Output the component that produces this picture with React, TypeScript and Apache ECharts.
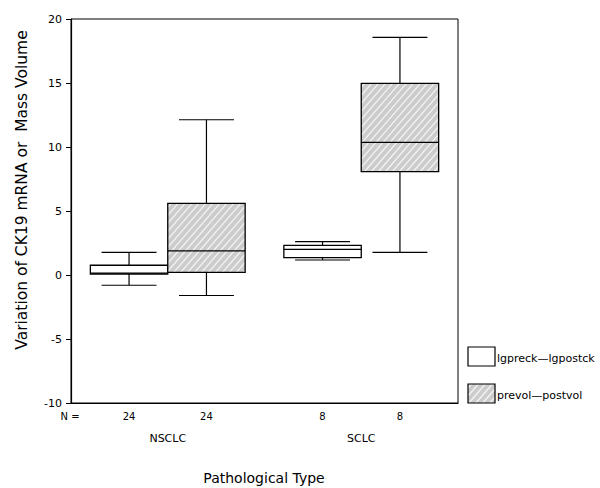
import React, { useEffect, useRef } from "react";
import * as echarts from "echarts";

const categories = ["NSCLC", "SCLC"];
// [min, Q1, median, Q3, max]
const lgpreckBoxes = [
  [-0.8, 0.08, 0.15, 0.76, 1.77],
  [1.17, 1.35, 2.0, 2.32, 2.6],
];
const prevolBoxes = [
  [-1.6, 0.2, 1.88, 5.6, 12.13],
  [1.77, 8.07, 10.36, 14.97, 18.57],
];
const lgpreckN = [24, 8];
const prevolN = [24, 8];
const seriesNames = ["lgpreck—lgpostck", "prevol—postvol"];
const yTicks = { min: -10, max: 20, interval: 5 };

const FONT = "DejaVu Sans";
const HATCH_FILL = "#cccccc";
const HATCH_LINE = "#f4f4f4";

function hatchLines(x0: number, y0: number, w: number, h: number, step = 8, k = 1.15) {
  const out: any[] = [];
  const cMin = k * x0 + y0;
  const cMax = k * (x0 + w) + y0 + h;
  for (let c = cMin + step / 2; c < cMax; c += step) {
    const xa = Math.max(x0, (c - y0 - h) / k);
    const xb = Math.min(x0 + w, (c - y0) / k);
    if (xb - xa > 0.3) {
      out.push({
        type: "line",
        shape: { x1: xa, y1: c - k * xa, x2: xb, y2: c - k * xb },
        style: { stroke: HATCH_LINE, lineWidth: 1.3 },
        silent: true,
      });
    }
  }
  return out;
}

function makeRender(offset: number, hatched: boolean) {
  return (params: any, api: any) => {
    const cat = api.value(0);
    const band = api.size([1, 0])[0];
    const cx = api.coord([cat, 0])[0] + offset * band;
    const boxW = 0.4 * band;
    const capW = 0.284 * band;
    const yMin = api.coord([cat, api.value(1)])[1];
    const yQ1 = api.coord([cat, api.value(2)])[1];
    const yMed = api.coord([cat, api.value(3)])[1];
    const yQ3 = api.coord([cat, api.value(4)])[1];
    const yMax = api.coord([cat, api.value(5)])[1];
    const yBottom = api.coord([cat, yTicks.min])[1];
    const x0 = cx - boxW / 2;
    const line = (x1: number, y1: number, x2: number, y2: number) => ({
      type: "line",
      shape: { x1, y1, x2, y2 },
      style: { stroke: "#000", lineWidth: 1.2 },
    });
    const children: any[] = [
      line(cx, yMax, cx, yQ3),
      line(cx, yQ1, cx, yMin),
      line(cx - capW / 2, yMax, cx + capW / 2, yMax),
      line(cx - capW / 2, yMin, cx + capW / 2, yMin),
      {
        type: "rect",
        shape: { x: x0, y: yQ3, width: boxW, height: yQ1 - yQ3 },
        style: { fill: hatched ? HATCH_FILL : "#fff", stroke: "none" },
      },
    ];
    if (hatched) children.push(...hatchLines(x0, yQ3, boxW, yQ1 - yQ3));
    children.push(
      {
        type: "rect",
        shape: { x: x0, y: yQ3, width: boxW, height: yQ1 - yQ3 },
        style: { fill: "none", stroke: "#000", lineWidth: 1.3 },
      },
      line(x0, yMed, x0 + boxW, yMed),
      {
        type: "text",
        x: cx,
        y: yBottom + 13,
        style: {
          text: String(api.value(6)),
          fontSize: 10,
          fontFamily: FONT,
          fill: "#000",
          align: "center",
          verticalAlign: "middle",
        },
      }
    );
    return { type: "group", children };
  };
}

const toData = (boxes: number[][], ns: number[]) =>
  boxes.map((b, i) => [i, ...b, ns[i]]);

export default function App() {
  const ref = useRef<HTMLDivElement>(null);
  useEffect(() => {
    if (!ref.current) return;
    const chart = echarts.init(ref.current, null, { renderer: "svg" });
    const legendItems: any[] = [];
    legendItems.push({
      type: "rect",
      shape: { x: 468, y: 347, width: 27, height: 19 },
      style: { fill: "#fff", stroke: "#000", lineWidth: 1.2 },
    });
    legendItems.push({
      type: "text",
      x: 497,
      y: 358,
      style: { text: seriesNames[0], fontSize: 11, fontFamily: FONT, fill: "#000", verticalAlign: "middle" },
    });
    legendItems.push({
      type: "rect",
      shape: { x: 468, y: 384, width: 27, height: 19 },
      style: { fill: HATCH_FILL, stroke: "none" },
    });
    legendItems.push(...hatchLines(468, 384, 27, 19));
    legendItems.push({
      type: "rect",
      shape: { x: 468, y: 384, width: 27, height: 19 },
      style: { fill: "none", stroke: "#000", lineWidth: 1.2 },
    });
    legendItems.push({
      type: "text",
      x: 497,
      y: 395,
      style: { text: seriesNames[1], fontSize: 11, fontFamily: FONT, fill: "#000", verticalAlign: "middle" },
    });
    legendItems.push({
      type: "text",
      x: 70,
      y: 416,
      style: { text: "N =", fontSize: 10, fontFamily: FONT, fill: "#000", align: "center", verticalAlign: "middle" },
    });
    legendItems.push({
      type: "text",
      x: 22,
      y: 190,
      rotation: Math.PI / 2,
      style: {
        text: "Variation of CK19 mRNA or  Mass Volume",
        fontSize: 15.5,
        fontFamily: FONT,
        fill: "#000",
        align: "center",
        verticalAlign: "middle",
      },
    });
    legendItems.push({
      type: "text",
      x: 264,
      y: 478,
      style: {
        text: "Pathological Type",
        fontSize: 14,
        fontFamily: FONT,
        fill: "#000",
        align: "center",
        verticalAlign: "middle",
      },
    });

    chart.setOption({
      animation: false,
      backgroundColor: "#fff",
      grid: {
        left: 71,
        right: 142,
        top: 19,
        bottom: 85,
        show: true,
        borderColor: "#000",
        borderWidth: 1,
        backgroundColor: "transparent",
      },
      xAxis: {
        type: "category",
        data: categories,
        boundaryGap: true,
        axisLine: { onZero: false, lineStyle: { color: "#000", width: 1.2 } },
        axisTick: { alignWithLabel: true, length: 4, lineStyle: { color: "#000" } },
        axisLabel: { margin: 30, fontSize: 11, fontFamily: FONT, color: "#000" },
        splitLine: { show: false },
      },
      yAxis: {
        type: "value",
        min: yTicks.min,
        max: yTicks.max,
        interval: yTicks.interval,
        axisLine: { show: true, lineStyle: { color: "#000", width: 1.2 } },
        axisTick: { show: true, length: 5, lineStyle: { color: "#000" } },
        axisLabel: { margin: 9, fontSize: 11, fontFamily: FONT, color: "#000" },
        splitLine: { show: false },
      },
      graphic: legendItems,
      series: [
        {
          type: "custom",
          name: seriesNames[0],
          renderItem: makeRender(-0.2, false),
          encode: { x: 0, y: [1, 2, 3, 4, 5] },
          data: toData(lgpreckBoxes, lgpreckN),
          clip: false,
        },
        {
          type: "custom",
          name: seriesNames[1],
          renderItem: makeRender(0.2, true),
          encode: { x: 0, y: [1, 2, 3, 4, 5] },
          data: toData(prevolBoxes, prevolN),
          clip: false,
        },
      ],
    });
    return () => chart.dispose();
  }, []);
  return (
    <div
      ref={ref}
      style={{ position: "absolute", left: 0, top: 0, width: 600, height: 488 }}
    />
  );
}
